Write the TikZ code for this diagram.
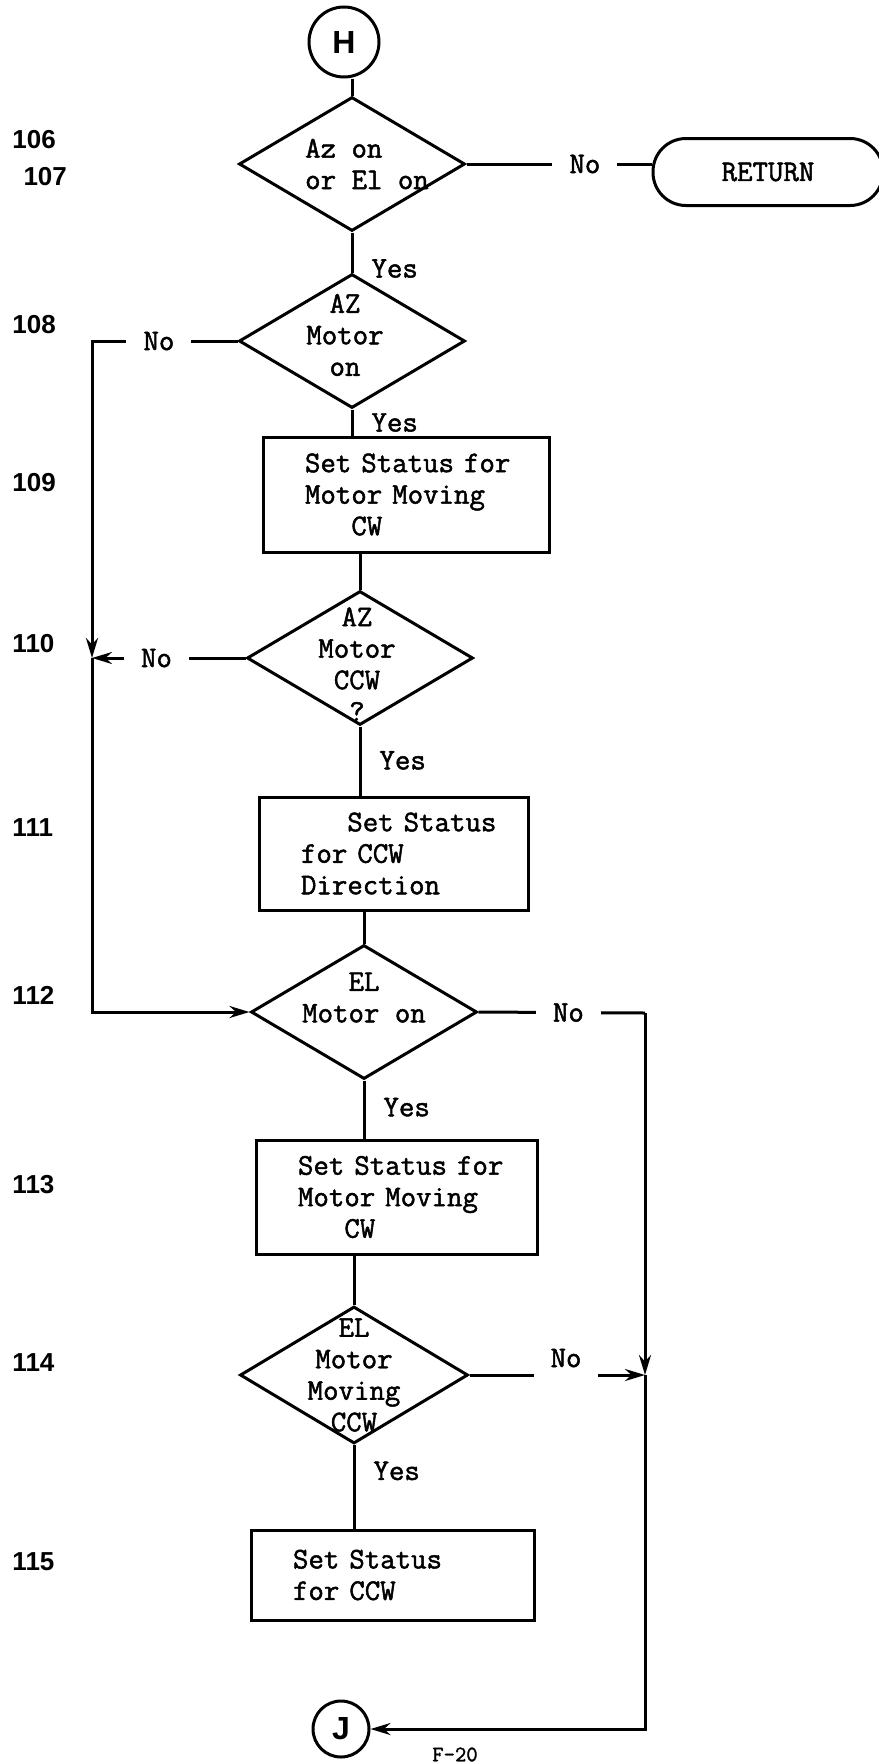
\documentclass[tikz,border=0pt]{standalone}
\usepackage{fontspec}
\newfontfamily\flowtt{Latin Modern Mono}[FakeBold=1.6]
\newfontfamily\stepfont{Liberation Sans}
\usetikzlibrary{shapes.geometric,arrows.meta}

\hyphenpenalty=10000
\newcommand{\flowfont}{\flowtt\fontsize{30}{31.5}\selectfont}

\tikzset{
  decision/.style={diamond, draw, inner sep=0pt, minimum width=226pt, minimum height=134pt},
  dtext/.style={align=center, inner sep=0pt, font=\flowfont},
  process/.style={draw, align=left, inner xsep=42pt, inner ysep=0pt, font=\flowfont},
  terminal/.style={draw, rounded corners=33pt, minimum width=230pt, minimum height=67pt, font=\flowfont},
  conn/.style={circle, draw, inner sep=0pt, font=\stepfont\bfseries\fontsize{32}{32}\selectfont},
  stepno/.style={anchor=west, inner sep=0pt, font=\stepfont\bfseries\fontsize{26}{26}\selectfont},
  lbl/.style={fill=white, inner xsep=17pt, inner ysep=4pt, font=\flowfont},
  yes/.style={right, inner sep=0pt, xshift=18pt, font=\flowfont}
}

\begin{document}
\begin{tikzpicture}[x=1pt, y=-1pt, line width=3pt, >={Stealth[length=20pt, width=12pt]}]
    \useasboundingbox (0,0) rectangle (878,1764);

    % Anschluesse
    \node[conn, minimum size=70pt] (H) at (344,42) {H};
    \node[conn, minimum size=56pt] (J) at (341,1729) {J};

    % Schrittnummern
    \node[stepno] (s106) at (11,140) {106};
    \node[stepno] (s107) at (22,177) {107};
    \node[stepno] (s108) at (11,325) {108};
    \node[stepno] (s109) at (11,483) {109};
    \node[stepno] (s110) at (11,644) {110};
    \node[stepno] (s111) at (11,828) {111};
    \node[stepno] (s112) at (11,995) {112};
    \node[stepno] (s113) at (11,1185) {113};
    \node[stepno] (s114) at (11,1363) {114};
    \node[stepno] (s115) at (11,1562) {115};

    % Abfragen
    \node[decision, label={[dtext, align=left, xshift=15pt]center:{Az on\\or El on}}] (d1) at (352,164) {};
    \node[decision, label={[dtext, xshift=-7pt, yshift=6pt]center:{AZ\\Motor\\on}}] (d2) at (352,341) {};
    \node[decision, label={[dtext, xshift=-3pt, yshift=-6pt]center:{AZ\\Motor\\CCW\\?}}] (d3) at (360,658) {};
    \node[decision, label={[dtext, yshift=14.5pt]center:{EL\\Motor on}}] (d4) at (364,1012) {};
    \node[decision, minimum width=228pt, minimum height=137pt,
          label={[dtext]center:{EL\\Motor\\Moving\\CCW}}] (d5) at (354,1375) {};

    % Bearbeitung
    \node[process, text width=202pt, minimum height=115pt] (b1) at (406,494.5)
        {Set~Status~for\\Motor~Moving\\\phantom{Mot}CW};
    \node[process, text width=185pt, minimum height=113pt] (b2) at (393.5,853.5)
        {\phantom{for}Set~Status\\for~CCW\\Direction};
    \node[process, text width=197pt, minimum height=114pt] (b3) at (396.5,1197)
        {Set~Status~for\\Motor~Moving\\\phantom{Mot}CW};
    \node[process, text width=199pt, minimum height=90pt] (b4) at (392.5,1575)
        {Set~Status\\for~CCW};

    \node[terminal] (ret) at (768,172) {RETURN};
    \node[font=\flowtt\fontsize{22}{22}\selectfont, anchor=south, inner sep=0pt] (f20) at (455,1763) {F-20};

    % Hilfspunkte
    \coordinate (lft) at (92,341);
    \coordinate (rgt) at (645,1013);

    % Hauptfluss
    \draw (H.south -| d1.north) -- (d1.north);
    \draw (d1.east) -- node[lbl, pos=0.64] (no1) {No} (d1.east -| ret.west);
    \draw (d1.south) -- node[yes, pos=0.9] (y1) {Yes} (d2.north);
    \draw (d2.south) -- node[yes, pos=0.5] (y2) {Yes} (d2.south |- b1.north);
    \draw (b1.south -| d3.north) -- (d3.north);
    \draw (d3.south) -- node[yes, pos=0.49] (y3) {Yes} (d3.south |- b2.north);
    \draw (b2.south -| d4.north) -- (d4.north);
    \draw (d4.south) -- node[yes, pos=0.46] (y4) {Yes} (d4.south |- b3.north);
    \draw (b3.south -| d5.north) -- (d5.north);
    \draw (d5.south) -- node[yes, pos=0.31] (y5) {Yes} (d5.south |- b4.north);

    % Nein-Zweige links
    \draw[->] (d2.west) -- node[lbl, pos=0.54] (no2) {No} (lft) -- (lft |- d3.west);
    \draw[->] (d3.west) -- node[lbl, pos=0.58] (no3) {No} (lft |- d3.west);
    \draw[->] (lft |- d3.west) -- (lft |- d4.west) -- (d4.west);

    % Nein-Zweige rechts
    \draw (d4.east) -- node[lbl, pos=0.54] (no4) {No} (rgt);
    \draw[->] (rgt) -- (rgt |- d5.east);
    \draw[->] (d5.east) -- node[lbl, pos=0.55, yshift=17pt, inner ysep=12pt] (no5) {No} (rgt |- d5.east);
    \draw[->] (rgt |- d5.east) -- (rgt |- J.east) -- (J.east);
\end{tikzpicture}
\end{document}
